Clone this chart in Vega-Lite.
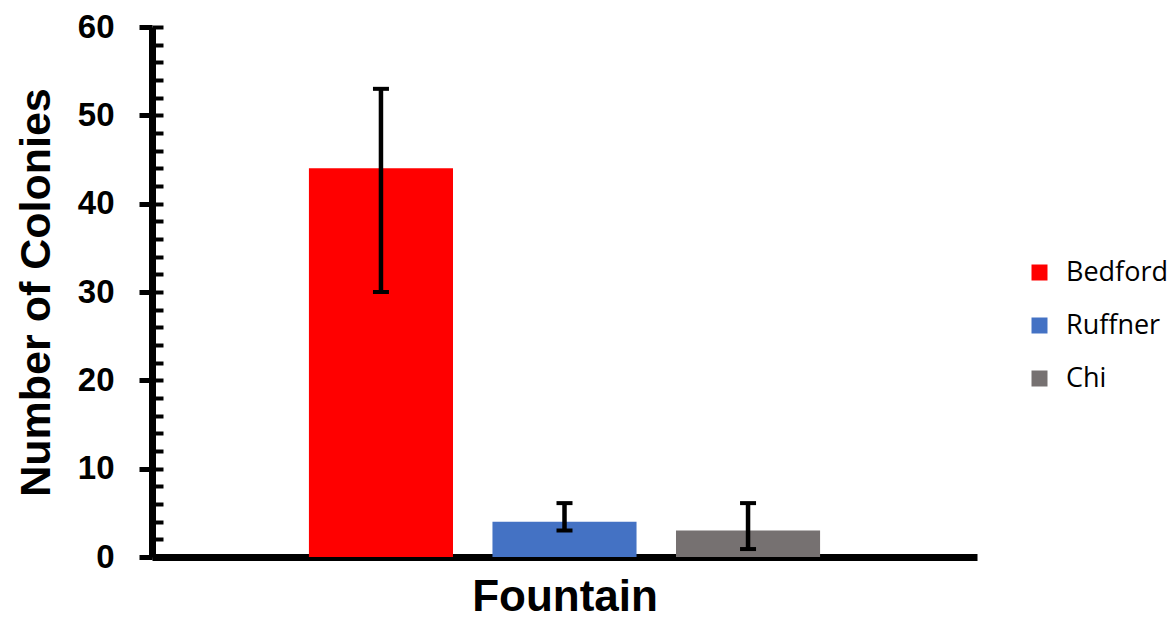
{
  "$schema": "https://vega.github.io/schema/vega-lite/v6.json",
  "width": 825,
  "height": 530,
  "autosize": {"type": "none"},
  "padding": {"left": 152, "top": 27, "right": 195, "bottom": 61},
  "background": "white",
  "config": {"view": {"stroke": null}, "axis": {"grid": false}},
  "data": {
    "values": [
      {"site": "Bedford", "colonies": 44, "lo": 30, "hi": 53},
      {"site": "Ruffner", "colonies": 4, "lo": 3, "hi": 6.1},
      {"site": "Chi", "colonies": 3, "lo": 0.9, "hi": 6.1}
    ]
  },
  "encoding": {
    "x": {
      "field": "site",
      "type": "nominal",
      "sort": ["Bedford", "Ruffner", "Chi"],
      "scale": {"paddingInner": 0.215, "paddingOuter": 0.855},
      "axis": {
        "title": "Fountain",
        "labels": false,
        "ticks": false,
        "domainColor": "black",
        "domainWidth": 7,
        "titleFont": "Liberation Sans",
        "titleFontWeight": "bold",
        "titleFontSize": 44,
        "titleColor": "black",
        "titleBaseline": "alphabetic",
        "titleY": 53,
        "titleX": 412.5
      }
    }
  },
  "layer": [
    {
      "mark": {"type": "bar"},
      "encoding": {
        "y": {
          "field": "colonies",
          "type": "quantitative",
          "scale": {"domain": [0, 60], "nice": false},
          "axis": {
            "title": "Number of Colonies",
            "orient": "left",
            "values": [0, 10, 20, 30, 40, 50, 60],
            "tickSize": 13,
            "tickWidth": 5,
            "tickColor": "black",
            "domainColor": "black",
            "domainWidth": 7,
            "labelFont": "Liberation Sans",
            "labelFontWeight": "bold",
            "labelFontSize": 33,
            "labelColor": "black",
            "labelPadding": 25,
            "titleFont": "Liberation Sans",
            "titleFontWeight": "bold",
            "titleFontSize": 43,
            "titleColor": "black",
            "titleAngle": 270,
            "titleBaseline": "alphabetic",
            "titleAlign": "center",
            "titleX": -103,
            "titleY": 265
          }
        },
        "color": {
          "field": "site",
          "type": "nominal",
          "scale": {"domain": ["Bedford", "Ruffner", "Chi"], "range": ["#FF0000", "#4472C4", "#767171"]},
          "legend": {
            "title": null,
            "orient": "none",
            "legendX": 874,
            "legendY": 232,
            "padding": 0,
            "symbolType": "square",
            "symbolSize": 256,
            "symbolStrokeWidth": 0,
            "symbolOpacity": 1,
            "labelFont": "Open Sans",
            "labelFontSize": 27,
            "labelColor": "black",
            "labelOffset": 13,
            "rowPadding": 25
          }
        }
      }
    },
    {
      "mark": {"type": "rule", "color": "black", "strokeWidth": 4.5},
      "encoding": {
        "y": {
          "field": "lo",
          "type": "quantitative",
          "axis": {
            "orient": "left",
            "title": null,
            "labels": false,
            "domain": false,
            "values": [0, 2, 4, 6, 8, 10, 12, 14, 16, 18, 20, 22, 24, 26, 28, 30, 32, 34, 36, 38, 40, 42, 44, 46, 48, 50, 52, 54, 56, 58, 60],
            "tickSize": -11,
            "tickWidth": 4,
            "tickColor": "black"
          }
        },
        "y2": {"field": "hi"}
      }
    },
    {
      "mark": {"type": "tick", "color": "black", "thickness": 4, "size": 16, "opacity": 1},
      "encoding": {"y": {"field": "lo", "type": "quantitative", "axis": null}}
    },
    {
      "mark": {"type": "tick", "color": "black", "thickness": 4, "size": 16, "opacity": 1},
      "encoding": {"y": {"field": "hi", "type": "quantitative", "axis": null}}
    }
  ],
  "resolve": {"axis": {"y": "independent"}}
}
